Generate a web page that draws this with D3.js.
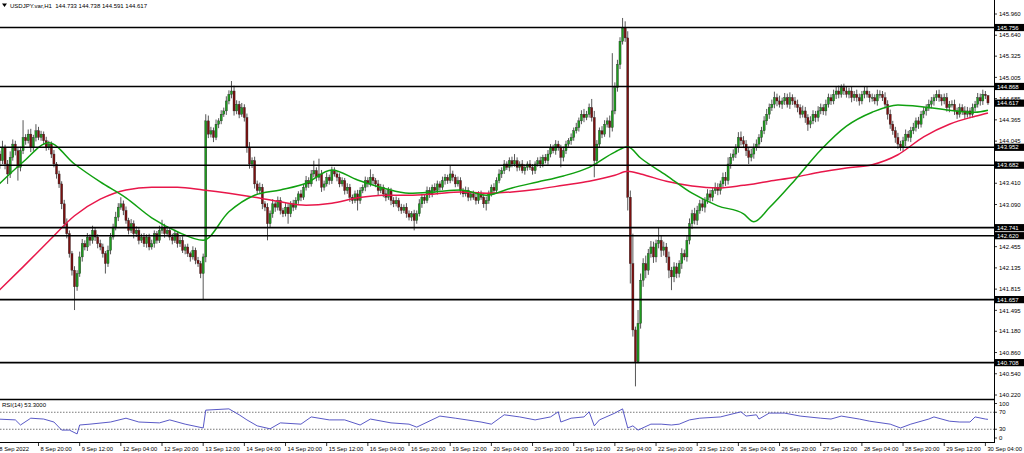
<!DOCTYPE html>
<html><head><meta charset="utf-8">
<script src="https://cdn.jsdelivr.net/npm/d3@7"></script>
<style>body{margin:0;background:#fff;} svg{display:block;font-family:"Liberation Sans",Arial,sans-serif;}</style>
</head><body><svg id="c" width="1024" height="453"></svg>
<script>
// ---------------- DATA ----------------
const symbolTitle = "USDJPY.var,H1  144.733 144.738 144.591 144.617";
const firstOpen = 143.95;
const closes = [
143.85,143.75,143.95,143.70,143.55,143.80,144.00,143.90,143.65,143.90,
144.10,144.05,144.15,143.95,144.10,144.20,144.10,144.15,144.05,143.95,
144.00,143.85,143.70,143.55,143.40,143.10,142.80,142.65,142.35,142.10,
141.85,142.05,142.30,142.50,142.45,142.60,142.55,142.70,142.60,142.50,
142.45,142.35,142.20,142.40,142.60,142.75,142.90,143.05,143.10,143.00,
142.85,142.70,142.80,142.65,142.70,142.55,142.60,142.50,142.60,142.45,
142.50,142.65,142.55,142.70,142.75,142.65,142.70,142.60,142.55,142.65,
142.50,142.55,142.40,142.45,142.35,142.30,142.40,142.25,142.20,142.05,
142.30,144.35,144.15,144.20,144.10,144.30,144.35,144.45,144.50,144.65,
144.75,144.80,144.50,144.60,144.45,144.55,144.40,143.95,143.70,143.75,
143.40,143.30,143.35,143.10,143.05,142.80,142.95,143.10,143.05,143.15,
143.00,142.95,143.05,142.95,143.10,143.05,143.15,143.25,143.20,143.35,
143.45,143.40,143.55,143.60,143.50,143.55,143.35,143.40,143.50,143.45,
143.60,143.55,143.50,143.40,143.45,143.30,143.35,143.20,143.15,143.25,
143.15,143.30,143.35,143.45,143.40,143.50,143.45,143.40,143.30,143.35,
143.25,143.20,143.30,143.15,143.10,143.15,143.05,143.00,143.05,142.95,
142.90,142.95,142.85,142.95,143.10,143.20,143.15,143.30,143.25,143.35,
143.30,143.40,143.35,143.45,143.50,143.45,143.55,143.50,143.40,143.45,
143.30,143.25,143.30,143.20,143.25,143.20,143.15,143.25,143.20,143.10,
143.15,143.25,143.35,143.30,143.45,143.55,143.60,143.70,143.65,143.75,
143.70,143.75,143.65,143.70,143.60,143.65,143.70,143.65,143.60,143.70,
143.75,143.70,143.80,143.75,143.85,143.95,143.90,144.00,143.95,143.80,
143.90,144.00,144.05,144.10,144.20,144.25,144.35,144.45,144.40,144.45,
144.55,144.40,143.75,144.00,144.20,144.15,144.30,144.35,144.25,144.50,
144.85,145.20,145.55,145.75,145.60,143.20,142.20,141.20,140.72,141.30,
141.95,142.20,142.10,142.35,142.45,142.30,142.50,142.55,142.40,142.45,
142.30,142.10,142.00,142.15,142.05,142.20,142.35,142.30,142.55,142.80,
142.95,142.85,143.00,143.10,143.05,143.15,143.25,143.20,143.30,143.35,
143.30,143.40,143.50,143.45,143.70,143.80,143.85,143.95,144.10,144.05,
144.00,143.90,143.80,143.85,143.95,144.00,144.10,144.20,144.35,144.45,
144.55,144.60,144.70,144.65,144.60,144.65,144.70,144.60,144.70,144.65,
144.60,144.55,144.45,144.50,144.40,144.30,144.35,144.45,144.40,144.50,
144.55,144.50,144.60,144.70,144.65,144.75,144.80,144.75,144.85,144.80,
144.75,144.80,144.70,144.75,144.70,144.65,144.75,144.80,144.75,144.70,
144.70,144.65,144.75,144.75,144.70,144.60,144.45,144.30,144.20,144.10,
144.00,143.95,144.05,144.15,144.10,144.20,144.25,144.35,144.30,144.45,
144.50,144.55,144.60,144.65,144.70,144.75,144.70,144.65,144.70,144.55,
144.60,144.60,144.50,144.45,144.55,144.50,144.45,144.50,144.45,144.55,
144.60,144.70,144.65,144.75,144.73,144.62];
// upper / lower wick lengths in hundredths of a yen
const wickUp = [
8,5,10,4,6,9,7,5,4,6, 26,5,7,8,4,10,6,5,4,6, 5,4,6,3,5,4,6,8,5,4, 6,5,8,7,5,6,4,7,5,4,
6,5,4,7,6,5,8,6,10,5, 6,4,7,5,6,4,5,6,4,5, 6,5,4,7,11,5,6,4,5,6, 4,5,6,4,5,3,6,4,5,4,
5,10,8,6,5,7,4,6,5,7, 6,15,8,6,5,7,5,6,8,5, 6,5,7,5,4,6,5,7,4,6, 5,4,6,5,4,6,5,4,6,5,
7,5,6,15,5,23,6,5,7,4, 6,5,4,6,5,4,6,5,4,5, 6,5,4,6,5,12,5,4,6,5, 4,6,5,4,5,6,4,5,4,6,
5,4,6,5,7,5,4,6,5,4, 6,5,4,6,5,4,13,5,4,6, 5,4,6,5,4,5,6,4,5,4, 6,5,4,6,5,7,5,6,4,5,
6,10,5,4,6,5,4,6,5,4, 5,6,4,5,6,5,4,6,5,4, 6,5,4,6,5,7,5,6,8,5, 6,13,10,6,5,7,6,5,8,87,
8,7,6,15,10,10,10,45,5,20, 10,8,12,7,9,8,6,20,7,8, 6,8,5,7,6,5,8,6,7,8, 6,9,7,6,8,5,7,6,5,7,
6,5,7,8,10,6,7,5,8,9, 7,6,5,8,6,7,5,6,7,8, 6,7,9,6,8,5,7,6,8,5, 6,7,5,8,6,5,7,6,5,7,
6,5,7,6,5,7,6,8,5,6, 7,5,6,5,7,6,5,6,7,5, 6,5,7,6,5,8,6,7,5,6, 7,5,6,7,5,6,7,5,6,5,
6,5,7,6,5,6,7,5,6,7, 5,6,7,5,6,5,7,6,5,6, 5,7,6,7,5,1];
const wickDn = [
6,12,5,8,15,6,5,7,20,6, 5,6,4,7,5,6,4,5,6,5, 4,6,5,7,6,8,5,7,6,8, 35,6,5,7,5,6,8,5,6,7,
5,6,15,5,6,4,5,6,4,7, 5,6,4,7,5,6,4,5,6,5, 4,6,5,4,5,6,4,5,6,4, 6,5,4,6,5,7,4,6,5,7,
40,8,6,5,7,4,6,5,4,6, 5,6,7,5,6,4,6,8,7,6, 7,6,5,8,6,25,5,6,7,5, 6,5,4,15,5,6,4,5,6,4,
5,6,4,5,6,5,7,5,4,6, 5,4,6,5,4,6,5,7,5,4, 15,5,4,6,5,4,6,5,7,4, 5,6,4,7,5,4,6,5,4,6,
5,6,15,5,4,6,5,4,6,5, 4,6,5,4,6,5,4,6,5,4, 6,5,4,6,5,4,6,5,4,6, 10,5,4,6,5,4,6,5,4,6,
5,4,6,5,4,6,5,4,6,5, 4,6,5,4,6,5,4,6,5,15, 6,5,4,6,5,4,6,5,7,4, 5,6,25,8,5,6,4,5,15,6,
5,6,7,5,6,20,30,10,37,2, 8,10,12,7,6,9,8,7,10,8, 9,12,20,8,7,6,8,5,7,6, 8,6,7,5,6,8,5,7,6,5,
7,6,5,8,6,7,5,6,8,7, 6,8,10,6,7,5,6,7,5,6, 7,5,6,8,5,7,6,5,7,6, 5,7,6,5,8,10,6,5,7,6,
5,6,7,5,6,5,7,6,5,6, 5,6,7,5,6,7,5,6,5,7, 6,5,7,6,5,6,8,7,6,8, 7,5,6,8,6,7,5,6,7,5,
6,7,5,6,7,5,6,7,5,6, 7,5,6,7,5,6,7,5,6,5, 6,5,7,6,5,3];

const levels = [145.756, 144.868, 143.952, 143.682, 142.741, 142.620, 141.657, 140.708];
const lastPrice = 144.617;
// price-scale ticks; 143.730 and 142.770 sit under level tags, so only their marks show
const priceTicks = [145.960,145.640,145.325,145.005,144.685,144.365,144.045,143.730,143.410,143.090,
                    142.770,142.455,142.135,141.815,141.495,141.180,140.860,140.540,140.220];
const hiddenTickLabels = [143.730, 142.770];
const timeLabels = ["8 Sep 2022","8 Sep 20:00","9 Sep 12:00","12 Sep 04:00","12 Sep 20:00","13 Sep 12:00",
  "14 Sep 04:00","14 Sep 20:00","15 Sep 12:00","16 Sep 04:00","16 Sep 20:00","19 Sep 12:00","20 Sep 04:00",
  "20 Sep 20:00","21 Sep 12:00","22 Sep 04:00","22 Sep 20:00","23 Sep 12:00","26 Sep 04:00","26 Sep 20:00",
  "27 Sep 12:00","28 Sep 04:00","28 Sep 20:00","29 Sep 12:00","30 Sep 04:00"];
const barsPerLabel = 16;

const maBars = [0,10,20,30,40,50,60,70,80,90,100,110,120,130,140,150,160,170,180,190,200,210,220,230,240,245,250,260,270,280,290,294,300,310,320,330,340,350,360,370,380,385];
const maGreen = [143.37,143.73,144.02,143.70,143.43,143.19,142.89,142.68,142.55,142.98,143.23,143.31,143.41,143.61,143.46,143.34,143.26,143.28,143.31,143.23,143.34,143.43,143.52,143.65,143.88,143.96,143.79,143.53,143.26,143.07,142.95,142.83,143.04,143.46,143.91,144.27,144.48,144.59,144.56,144.51,144.48,144.51];
const maRed = [141.77,142.15,142.54,142.92,143.17,143.31,143.35,143.35,143.31,143.26,143.20,143.13,143.08,143.11,143.19,143.23,143.23,143.25,143.28,143.26,143.28,143.32,143.38,143.44,143.53,143.59,143.55,143.44,143.37,143.34,143.38,143.40,143.44,143.50,143.58,143.64,143.69,143.84,144.11,144.30,144.42,144.47];

const rsiBars = [0,7,9,13,18,22,25,28,31,32,36,44,50,55,63,67,73,80,81,90,94,97,101,106,110,118,122,129,135,141,145,153,160,163,172,178,188,192,197,203,209,215,218,219,223,228,230,232,234,240,243,245,247,249,254,258,262,265,269,273,281,289,291,295,296,300,306,312,320,324,328,335,339,347,351,355,362,364,370,374,378,380,384,385];
const rsiValues = [54,52,40,56,54,47,28,28,19,40,42,47,56,47,45,52,42,33,75,78,64,52,38,31,45,42,59,52,52,40,54,45,42,35,61,56,47,42,64,59,52,59,71,47,56,59,71,38,52,68,78,33,38,28,42,42,40,42,52,56,59,71,61,64,54,68,68,61,56,54,61,54,49,42,33,42,54,59,49,47,47,59,54,53.3];
const rsiLabel = "RSI(14) 53.3000";
const rsiLevels = [70, 30];
const rsiTicks = [100, 70, 30, 0];

// ---------------- DRAW ----------------
const svg = d3.select("#c");
const axisX = 994, mainBottom = 399, rsiTop = 400, rsiBottom = 442;
const x = d3.scaleLinear().domain([barsPerLabel, barsPerLabel * (timeLabels.length - 1)]).range([38.5, 985.4]);
const y = d3.scaleLinear().domain([140.22, 145.96]).range([395, 14]);
const yr = d3.scaleLinear().domain([0, 100]).range([rsiBottom, 399.5]);
const fontSize = 6;

const candles = closes.map((c, i) => {
  const o = i === 0 ? firstOpen : closes[i - 1];
  return {i, o, c, h: Math.max(o, c) + wickUp[i] / 100, l: Math.min(o, c) - wickDn[i] / 100};
});

svg.append("defs").append("clipPath").attr("id", "mainClip")
  .append("rect").attr("x", 0).attr("y", 0).attr("width", axisX).attr("height", mainBottom);
svg.select("defs").append("clipPath").attr("id", "rsiClip")
  .append("rect").attr("x", 0).attr("y", rsiTop).attr("width", axisX).attr("height", rsiBottom - rsiTop);

const main = svg.append("g").attr("clip-path", "url(#mainClip)");

// candles
const cg = main.append("g");
cg.selectAll("line.wick").data(candles).join("line")
  .attr("x1", d => x(d.i)).attr("x2", d => x(d.i))
  .attr("y1", d => y(d.h)).attr("y2", d => y(d.l))
  .attr("stroke", "#444").attr("stroke-width", 0.9);
cg.selectAll("rect.body").data(candles).join("rect")
  .attr("x", d => x(d.i) - 1.05).attr("width", 2.1)
  .attr("y", d => y(Math.max(d.o, d.c)))
  .attr("height", d => Math.max(0.8, Math.abs(y(d.o) - y(d.c))))
  .attr("fill", d => d.c >= d.o ? "#1e9a1e" : "#7a1010")
  .attr("stroke", "#222").attr("stroke-width", 0.35);

// moving averages
const maLine = vals => d3.line().curve(d3.curveMonotoneX)
  .x((d, k) => x(maBars[k])).y(d => y(d))(vals);
main.append("path").attr("d", maLine(maRed)).attr("fill", "none")
  .attr("stroke", "#e8174a").attr("stroke-width", 1.5);
main.append("path").attr("d", maLine(maGreen)).attr("fill", "none")
  .attr("stroke", "#10a010").attr("stroke-width", 1.5);

// horizontal levels
main.selectAll("line.level").data(levels).join("line")
  .attr("x1", 0).attr("x2", axisX).attr("y1", d => y(d)).attr("y2", d => y(d))
  .attr("stroke", "#000").attr("stroke-width", 1.6);

// title
svg.append("path").attr("d", "M2,3.5 L7,3.5 L4.5,7 Z").attr("fill", "#000");
svg.append("text").attr("x", 10).attr("y", 7.5).attr("font-size", fontSize).attr("fill", "#000")
  .attr("xml:space", "preserve").text(symbolTitle);

// right price axis
svg.append("line").attr("x1", axisX + 0.5).attr("x2", axisX + 0.5).attr("y1", 0).attr("y2", rsiBottom)
  .attr("stroke", "#000").attr("stroke-width", 1);
const pa = svg.append("g");
pa.selectAll("line").data(priceTicks).join("line")
  .attr("x1", axisX).attr("x2", axisX + 3).attr("y1", d => y(d)).attr("y2", d => y(d))
  .attr("stroke", "#000").attr("stroke-width", 0.8);
pa.selectAll("text").data(priceTicks.filter(t => !hiddenTickLabels.includes(t))).join("text")
  .attr("x", axisX + 5).attr("y", d => y(d) + 2.2).attr("font-size", fontSize).attr("fill", "#000")
  .text(d => d.toFixed(3));

// price labels (levels + last price)
const tagData = levels.concat([lastPrice]);
const tags = svg.append("g").selectAll("g").data(tagData).join("g");
tags.append("rect").attr("x", axisX + 1).attr("width", 1024 - axisX - 1)
  .attr("y", d => y(d) - 3.6).attr("height", 7.2).attr("fill", "#000");
tags.append("text").attr("x", axisX + 3).attr("y", d => y(d) + 2.2)
  .attr("font-size", fontSize).attr("fill", "#fff").text(d => d.toFixed(3));

// panel separators
svg.append("line").attr("x1", 0).attr("x2", axisX).attr("y1", mainBottom + 0.5).attr("y2", mainBottom + 0.5)
  .attr("stroke", "#000").attr("stroke-width", 1.3);
svg.append("line").attr("x1", 0).attr("x2", axisX + 1).attr("y1", rsiBottom + 0.5).attr("y2", rsiBottom + 0.5)
  .attr("stroke", "#000").attr("stroke-width", 1);

// RSI panel
const rsi = svg.append("g").attr("clip-path", "url(#rsiClip)");
rsi.selectAll("line.lvl").data(rsiLevels).join("line")
  .attr("x1", 0).attr("x2", axisX).attr("y1", d => yr(d)).attr("y2", d => yr(d))
  .attr("stroke", "#555").attr("stroke-width", 0.8).attr("stroke-dasharray", "1.5,1.5");
rsi.append("path")
  .attr("d", d3.line().x((d, k) => x(rsiBars[k])).y(d => yr(d))(rsiValues))
  .attr("fill", "none").attr("stroke", "#4646c0").attr("stroke-width", 0.9);
svg.append("text").attr("x", 2).attr("y", 407).attr("font-size", fontSize).attr("fill", "#000").text(rsiLabel);
const ra = svg.append("g");
ra.selectAll("line").data(rsiTicks).join("line")
  .attr("x1", axisX).attr("x2", axisX + 3)
  .attr("y1", d => Math.min(rsiBottom - 4, Math.max(403.5, yr(d))))
  .attr("y2", d => Math.min(rsiBottom - 4, Math.max(403.5, yr(d))))
  .attr("stroke", "#000").attr("stroke-width", 0.8);
ra.selectAll("text").data(rsiTicks).join("text")
  .attr("x", axisX + 5).attr("y", d => Math.min(rsiBottom - 4, Math.max(403.5, yr(d))) + 2.2)
  .attr("font-size", fontSize).attr("fill", "#000").text(d => d);

// time axis
const ta = svg.append("g");
ta.selectAll("line").data(timeLabels).join("line")
  .attr("x1", (d, k) => x(k * barsPerLabel)).attr("x2", (d, k) => x(k * barsPerLabel))
  .attr("y1", rsiBottom).attr("y2", rsiBottom + 4)
  .attr("stroke", "#000").attr("stroke-width", 0.8);
ta.selectAll("text").data(timeLabels).join("text")
  .attr("x", (d, k) => x(k * barsPerLabel) + 2).attr("y", 451)
  .attr("font-size", 5.8).attr("fill", "#000").text(d => d);
</script></body></html>
